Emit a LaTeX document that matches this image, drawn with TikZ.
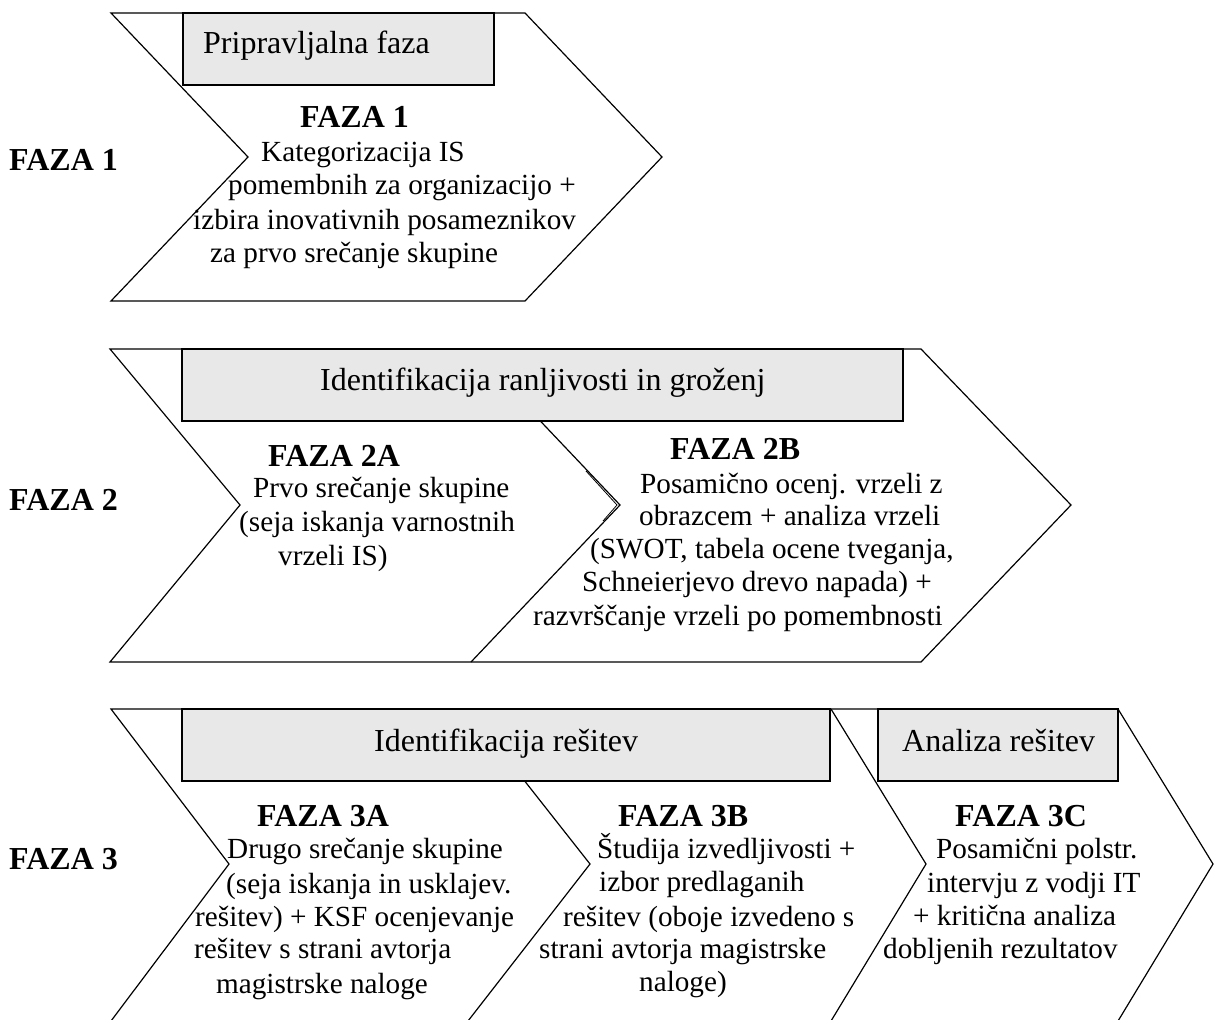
\documentclass[tikz,border=0pt]{standalone}
\usepackage{fontspec}
\setmainfont{Liberation Serif}
\definecolor{boxgray}{RGB}{232,232,232}
\tikzset{
  chev/.style={draw, line width=1.2pt, fill=white, line join=miter},
  edge/.style={draw, line width=1.2pt, line join=miter},
  hdrbox/.style={draw, line width=1.2pt, fill=boxgray},
  body/.style={anchor=base west, inner sep=0pt, font=\fontsize{29.2}{34}\selectfont},
  head/.style={anchor=base west, inner sep=0pt, font=\fontsize{32}{36}\selectfont\bfseries},
  boxlabel/.style={anchor=base west, inner sep=0pt, font=\fontsize{32}{38}\selectfont},
}
\begin{document}
\begin{tikzpicture}[x=1pt, y=-1pt]
\useasboundingbox (0,0) rectangle (1214,1019);
\clip (0,0) rectangle (1214,1019);
\fill[white] (0,0) rectangle (1214,1019);

% ---------- row 1: preparatory phase ----------
\draw[chev] (111,13) -- (525,13) -- (662,157) -- (525,301) -- (111,301) -- (248,157) -- cycle;
\draw[hdrbox] (183,13) rectangle (494,85);
\node[boxlabel] (h1) at (203,54) {Pripravljalna faza};
\node[head] (f1) at (300,128) {FAZA 1};
\node[body] (f1a) at (261,161.5) {Kategorizacija IS};
\node[body] (f1b) at (228,194.5) {pomembnih za organizacijo +};
\node[body] (f1c) at (193,229) {izbira inovativnih posameznikov};
\node[body] (f1d) at (210,262) {za prvo srečanje skupine};
\node[head] (r1) at (9,171) {FAZA 1};

% ---------- row 2: vulnerabilities and threats ----------
\draw[chev] (110,349) -- (921,349) -- (1071,505) -- (921,662) -- (110,662) -- (240,505) -- cycle;
\draw[edge] (472,349) -- (620,505) -- (471,662);
\draw[line width=0.8pt] (586,471) -- (617,505) -- (603,521);
\draw[hdrbox] (182,349) rectangle (903,421);
\node[boxlabel] (h2) at (320,390) {Identifikacija ranljivosti in groženj};
\node[head] (f2a) at (268,466) {FAZA 2A};
\node[body] (f2a1) at (253,497) {Prvo srečanje skupine};
\node[body] (f2a2) at (239,531) {(seja iskanja varnostnih};
\node[body] (f2a3) at (278,565) {vrzeli IS)};
\node[head] (f2b) at (670,459) {FAZA 2B};
\node[body] (f2b1) at (640,493) {Posamično ocenj. vrzeli z};
\node[body] (f2b2) at (639,525) {obrazcem + analiza vrzeli};
\node[body] (f2b3) at (590,558) {(SWOT, tabela ocene tveganja,};
\node[body] (f2b4) at (582,591) {Schneierjevo drevo napada) +};
\node[body] (f2b5) at (533,625) {razvrščanje vrzeli po pomembnosti};
\node[head] (r2) at (9,510) {FAZA 2};

% ---------- row 3: solutions ----------
\draw[chev] (111,709) -- (1118,709) -- (1213,864) -- (1118,1021) -- (111,1021) -- (229,864) -- cycle;
\draw[edge] (468,709) -- (590,864) -- (468,1021);
\draw[edge] (831,709) -- (926,864) -- (831,1021);
\draw[hdrbox] (182,709) rectangle (830,781);
\draw[hdrbox] (878,709) rectangle (1118,781);
\node[boxlabel] (h3) at (374,751) {Identifikacija rešitev};
\node[boxlabel] (h4) at (902,751) {Analiza rešitev};
\node[head] (f3a) at (257,826) {FAZA 3A};
\node[body] (f3a1) at (227,858) {Drugo srečanje skupine};
\node[body] (f3a2) at (226,893) {(seja iskanja in usklajev.};
\node[body] (f3a3) at (195,926) {rešitev) + KSF ocenjevanje};
\node[body] (f3a4) at (194,958) {rešitev s strani avtorja};
\node[body] (f3a5) at (216,993) {magistrske naloge};
\node[head] (f3b) at (618,826) {FAZA 3B};
\node[body] (f3b1) at (597,858) {Študija izvedljivosti +};
\node[body] (f3b2) at (599,891) {izbor predlaganih};
\node[body] (f3b3) at (563,926) {rešitev (oboje izvedeno s};
\node[body] (f3b4) at (539,958) {strani avtorja magistrske};
\node[body] (f3b5) at (639,991) {naloge)};
\node[head] (f3c) at (955,826) {FAZA 3C};
\node[body] (f3c1) at (936,858) {Posamični polstr.};
\node[body] (f3c2) at (927,892) {intervju z vodji IT};
\node[body] (f3c3) at (913,925) {+ kritična analiza};
\node[body] (f3c4) at (883,958) {dobljenih rezultatov};
\node[head] (r3) at (9,869) {FAZA 3};
\end{tikzpicture}
\end{document}
